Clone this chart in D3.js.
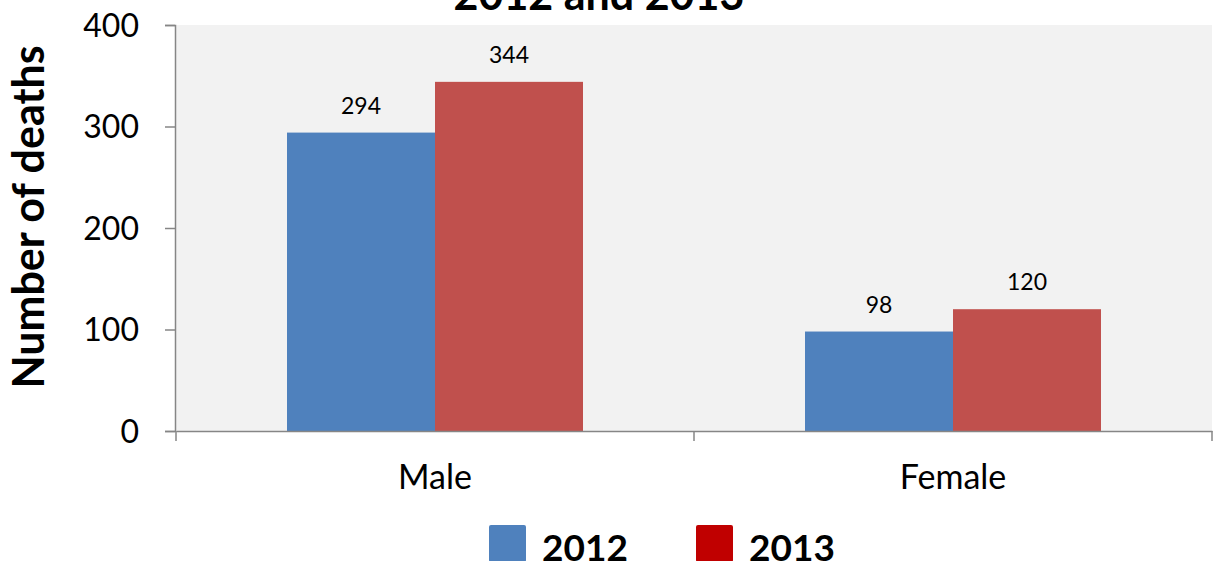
<!DOCTYPE html>
<html><head><meta charset="utf-8">
<script src="https://cdn.jsdelivr.net/npm/d3@7"></script>
<style>body{margin:0;background:#fff}svg{display:block}text{font-family:Lato,"Open Sans",sans-serif}</style>
</head><body>
<svg id="c" width="1219" height="561"></svg>
<script>
const categories = ["Male", "Female"];
const seriesNames = ["2012", "2013"];
const values2012 = [294, 98];
const values2013 = [344, 120];
const yTicks = [0, 100, 200, 300, 400];
const titleLine = "2012 and 2013";
const yTitle = "Number of deaths";

const svg = d3.select("#c");
const L = 176, R = 1212, T = 25, B = 431;
const x = d3.scaleBand().domain(categories).range([L, R]).paddingInner(0).paddingOuter(0);
const y = d3.scaleLinear().domain([0, 400]).range([B, T]);
const inner = d3.scaleBand().domain(seriesNames).range([0, x.bandwidth()]).paddingInner(0).paddingOuter(0.75);
const colors = {"2012": "#4f81bd", "2013": "#c0504d"};
const legendColors = {"2012": "#4f81bd", "2013": "#c00000"};

svg.append("rect").attr("x", L).attr("y", T).attr("width", R - L).attr("height", B - T).attr("fill", "#f2f2f2");

const data = categories.map((c, i) => ({c, vals: [{s: "2012", v: values2012[i]}, {s: "2013", v: values2013[i]}]}));
const g = svg.append("g").selectAll("g").data(data).join("g").attr("transform", d => `translate(${x(d.c)},0)`);
g.selectAll("rect").data(d => d.vals).join("rect")
  .attr("x", d => inner(d.s)).attr("width", inner.bandwidth())
  .attr("y", d => y(d.v)).attr("height", d => B - y(d.v)).attr("fill", d => colors[d.s]);
g.selectAll("text").data(d => d.vals).join("text")
  .attr("x", d => inner(d.s) + inner.bandwidth() / 2).attr("y", d => y(d.v) - 19)
  .attr("text-anchor", "middle").attr("font-size", 23).attr("fill", "#000").text(d => d.v);

const yAxis = svg.append("g").attr("transform", `translate(${L - 1},0)`)
  .call(d3.axisLeft(y).tickValues(yTicks).tickSize(10).tickPadding(26));
yAxis.select(".domain").attr("stroke", "#868686").attr("stroke-width", 1.5);
yAxis.selectAll(".tick line").attr("stroke", "#868686").attr("stroke-width", 1.5);
yAxis.selectAll(".tick text").attr("font-size", 32).attr("fill", "#000").attr("font-family", "Lato, sans-serif").attr("dy", "0.35em");

const xAxis = svg.append("g").attr("transform", `translate(0,${B})`)
  .call(d3.axisBottom(x).tickSizeOuter(0).tickSize(0).tickPadding(34));
xAxis.select(".domain").attr("stroke", "#868686").attr("stroke-width", 1.5);
xAxis.selectAll(".tick text").attr("font-size", 34).attr("fill", "#000").attr("font-family", "Lato, sans-serif");
const sep = [L, ...categories.map(c => x(c) + x.bandwidth())];
svg.append("g").selectAll("line").data(sep).join("line")
  .attr("x1", d => d).attr("x2", d => d).attr("y1", B).attr("y2", B + 10)
  .attr("stroke", "#868686").attr("stroke-width", 1.5);

svg.append("text").attr("transform", "translate(44,217) rotate(-90)")
  .attr("text-anchor", "middle").attr("font-size", 43).attr("font-weight", "bold").text(yTitle);

svg.append("text").attr("x", 599).attr("y", 10).attr("text-anchor", "middle")
  .attr("font-size", 43).attr("font-weight", "bold").text(titleLine);

const legX = [489, 696];
const lg = svg.append("g").selectAll("g").data(seriesNames).join("g")
  .attr("transform", (d, i) => `translate(${legX[i]},525)`);
lg.append("rect").attr("width", 37).attr("height", 37).attr("rx", 2).attr("fill", d => legendColors[d]);
lg.append("text").attr("x", 53).attr("y", 36).attr("font-size", 37).attr("font-weight", "bold").text(d => d);
</script>
</body></html>
